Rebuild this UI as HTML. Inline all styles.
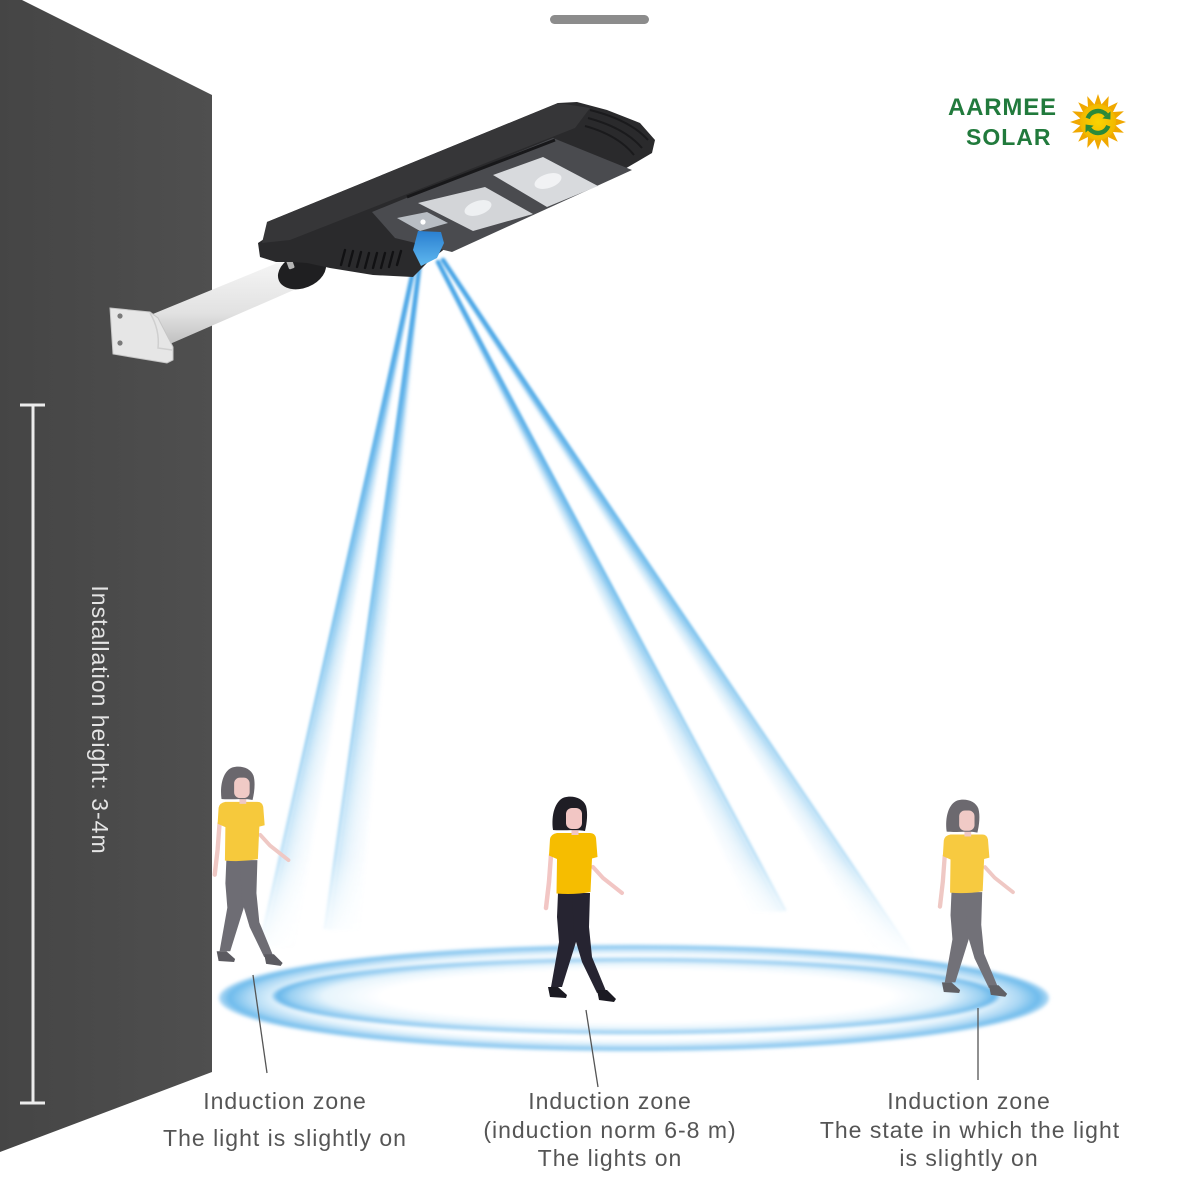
<!DOCTYPE html>
<html>
<head>
<meta charset="utf-8">
<style>
html,body{margin:0;padding:0;background:#ffffff;}
svg{display:block;}
text{font-family:"Liberation Sans",Arial,sans-serif;}
</style>
</head>
<body>
<svg width="1200" height="1200" viewBox="0 0 1200 1200" xmlns="http://www.w3.org/2000/svg">
<defs>
  <linearGradient id="wallg" x1="0" y1="0" x2="1" y2="0">
    <stop offset="0" stop-color="#454545"/>
    <stop offset="1" stop-color="#4f4f4f"/>
  </linearGradient>
  <radialGradient id="ringO" cx="0.5" cy="0.5" r="0.5">
    <stop offset="0" stop-color="#ffffff"/>
    <stop offset="0.78" stop-color="#ffffff"/>
    <stop offset="0.86" stop-color="#e4f3fc"/>
    <stop offset="0.93" stop-color="#aad7f4"/>
    <stop offset="0.975" stop-color="#6dbbec"/>
    <stop offset="1" stop-color="#b0d9f5"/>
  </radialGradient>
  <radialGradient id="ringI" cx="0.5" cy="0.5" r="0.5">
    <stop offset="0" stop-color="#ffffff"/>
    <stop offset="0.7" stop-color="#ffffff"/>
    <stop offset="0.86" stop-color="#e6f4fc"/>
    <stop offset="0.95" stop-color="#9ad0f2"/>
    <stop offset="0.985" stop-color="#66b6ea"/>
    <stop offset="1" stop-color="#b0daf5"/>
  </radialGradient>
  <linearGradient id="beamfade" gradientUnits="userSpaceOnUse" x1="0" y1="250" x2="0" y2="965">
    <stop offset="0" stop-color="#3e9fe4"/>
    <stop offset="0.5" stop-color="#66b8eb"/>
    <stop offset="0.85" stop-color="#92cdf1" stop-opacity="0.7"/>
    <stop offset="1" stop-color="#c8e7f9" stop-opacity="0"/>
  </linearGradient>
  <linearGradient id="tube" x1="0" y1="0" x2="0" y2="1">
    <stop offset="0" stop-color="#f5f5f5"/>
    <stop offset="0.6" stop-color="#e2e2e2"/>
    <stop offset="1" stop-color="#bdbdbd"/>
  </linearGradient>
  <linearGradient id="cone" x1="0" y1="0" x2="0" y2="1">
    <stop offset="0" stop-color="#2a7fd0"/>
    <stop offset="1" stop-color="#5fb8ef"/>
  </linearGradient>
  <radialGradient id="sunc" cx="0.5" cy="0.5" r="0.5">
    <stop offset="0" stop-color="#fbd400"/>
    <stop offset="1" stop-color="#f2b800"/>
  </radialGradient>
  <filter id="blur1" x="-20%" y="-20%" width="140%" height="140%"><feGaussianBlur stdDeviation="1.3"/></filter>
  <filter id="blur2" x="-10%" y="-50%" width="120%" height="200%"><feGaussianBlur stdDeviation="1.8"/></filter>
</defs>

<rect x="0" y="0" width="1200" height="1200" fill="#ffffff"/>

<!-- wall -->
<polygon points="0,0 22,0 212,95 212,1072 0,1152" fill="url(#wallg)"/>

<!-- height bar -->
<g stroke="#ececec" stroke-width="3">
  <line x1="33" y1="404" x2="33" y2="1104"/>
  <line x1="20" y1="405" x2="45" y2="405"/>
  <line x1="20" y1="1103" x2="45" y2="1103"/>
</g>
<text transform="translate(92,720) rotate(90)" text-anchor="middle" font-size="23" letter-spacing="1" fill="#e4e4e4">Installation height: 3-4m</text>

<!-- rings -->
<ellipse cx="634" cy="998" rx="415" ry="53" fill="url(#ringO)" filter="url(#blur2)"/>
<ellipse cx="636" cy="996" rx="364" ry="38" fill="url(#ringI)" filter="url(#blur2)"/>

<!-- beams -->
<g stroke="url(#beamfade)" fill="none" stroke-linecap="round" filter="url(#blur1)">
  <!-- left outer -->
  <line x1="415" y1="262" x2="260" y2="945" stroke-width="2.6" opacity="0.85"/>
  <line x1="415" y1="262" x2="264" y2="945" stroke-width="4.5" opacity="0.5"/>
  <line x1="415" y1="262" x2="268" y2="945" stroke-width="4.5" opacity="0.36"/>
  <line x1="415" y1="262" x2="272" y2="945" stroke-width="4.5" opacity="0.27"/>
  <line x1="415" y1="262" x2="276" y2="945" stroke-width="4.5" opacity="0.2"/>
  <line x1="415" y1="262" x2="280" y2="945" stroke-width="4.5" opacity="0.15"/>
  <line x1="415" y1="262" x2="284" y2="945" stroke-width="4.5" opacity="0.11"/>
  <line x1="415" y1="262" x2="288" y2="945" stroke-width="4.5" opacity="0.08"/>
  <line x1="415" y1="262" x2="292" y2="945" stroke-width="4.5" opacity="0.05"/>
  <!-- left inner -->
  <line x1="420" y1="262" x2="325" y2="928" stroke-width="2.6" opacity="0.85"/>
  <line x1="420" y1="262" x2="329" y2="928" stroke-width="4.5" opacity="0.5"/>
  <line x1="420" y1="262" x2="333" y2="928" stroke-width="4.5" opacity="0.36"/>
  <line x1="420" y1="262" x2="337" y2="928" stroke-width="4.5" opacity="0.27"/>
  <line x1="420" y1="262" x2="341" y2="928" stroke-width="4.5" opacity="0.2"/>
  <line x1="420" y1="262" x2="345" y2="928" stroke-width="4.5" opacity="0.15"/>
  <line x1="420" y1="262" x2="349" y2="928" stroke-width="4.5" opacity="0.11"/>
  <line x1="420" y1="262" x2="353" y2="928" stroke-width="4.5" opacity="0.08"/>
  <line x1="420" y1="262" x2="357" y2="928" stroke-width="4.5" opacity="0.05"/>
  <!-- right inner -->
  <line x1="438" y1="262" x2="785" y2="910" stroke-width="2.6" opacity="0.85"/>
  <line x1="438" y1="262" x2="781" y2="910" stroke-width="4.5" opacity="0.5"/>
  <line x1="438" y1="262" x2="777" y2="910" stroke-width="4.5" opacity="0.36"/>
  <line x1="438" y1="262" x2="773" y2="910" stroke-width="4.5" opacity="0.27"/>
  <line x1="438" y1="262" x2="769" y2="910" stroke-width="4.5" opacity="0.2"/>
  <line x1="438" y1="262" x2="765" y2="910" stroke-width="4.5" opacity="0.15"/>
  <line x1="438" y1="262" x2="761" y2="910" stroke-width="4.5" opacity="0.11"/>
  <line x1="438" y1="262" x2="757" y2="910" stroke-width="4.5" opacity="0.08"/>
  <line x1="438" y1="262" x2="753" y2="910" stroke-width="4.5" opacity="0.05"/>
  <!-- right outer -->
  <line x1="443" y1="260" x2="915" y2="958" stroke-width="2.6" opacity="0.85"/>
  <line x1="443" y1="260" x2="911" y2="958" stroke-width="4.5" opacity="0.5"/>
  <line x1="443" y1="260" x2="907" y2="958" stroke-width="4.5" opacity="0.36"/>
  <line x1="443" y1="260" x2="903" y2="958" stroke-width="4.5" opacity="0.27"/>
  <line x1="443" y1="260" x2="899" y2="958" stroke-width="4.5" opacity="0.2"/>
  <line x1="443" y1="260" x2="895" y2="958" stroke-width="4.5" opacity="0.15"/>
  <line x1="443" y1="260" x2="891" y2="958" stroke-width="4.5" opacity="0.11"/>
  <line x1="443" y1="260" x2="887" y2="958" stroke-width="4.5" opacity="0.08"/>
  <line x1="443" y1="260" x2="883" y2="958" stroke-width="4.5" opacity="0.05"/>
</g>

<!-- lamp arm & bracket -->
<polygon points="148,316 282,261 296,289 163,347" fill="url(#tube)"/>
<polygon points="110,308 150,312 158,318 173,347 173,360 167,363 113,354" fill="#e6e6e6" stroke="#c6c6c6" stroke-width="1"/>
<path d="M150,313 Q160,330 158,348 L172,350" fill="none" stroke="#cfcfcf" stroke-width="1.5"/>
<circle cx="120" cy="316" r="2.6" fill="#7a7a7a"/>
<circle cx="120" cy="343" r="2.6" fill="#7a7a7a"/>

<!-- lamp -->
<ellipse cx="302" cy="271" rx="25" ry="17" transform="rotate(-22 302 271)" fill="#1f1f21"/>
<rect x="287" y="258" width="6" height="11" rx="1.5" fill="#b5b5b5" transform="rotate(-20 290 263)"/>
<polygon points="267,222 558,103 577,102 607,110 640,123 655,140 652,153 623,170 447,247 427,263 413,277 373,275 330,268 307,263 292,262 276,262 260,257 258,243 267,237" fill="#2a2a2c"/>
<polygon points="267,222 558,103 590,108 575,128 290,240 262,243" fill="#363638"/>
<polygon points="372,212 553,138 632,170 452,252 395,238" fill="#4a4b4f"/>
<line x1="407" y1="197" x2="555" y2="140" stroke="#18181a" stroke-width="3"/>
<g stroke="#1a1a1c" stroke-width="2" fill="none">
  <path d="M590,110 Q630,120 648,140"/>
  <path d="M588,118 Q625,128 642,148"/>
  <path d="M585,126 Q618,135 634,155"/>
</g>
<polygon points="418,203 485,187 533,214 473,231" fill="#d3d5d8"/>
<ellipse cx="478" cy="208" rx="14" ry="7" transform="rotate(-18 478 208)" fill="#eef0f2"/>
<polygon points="493,175 543,157 598,186 547,207" fill="#d8dadd"/>
<ellipse cx="548" cy="181" rx="14" ry="7" transform="rotate(-18 548 181)" fill="#f1f2f4"/>
<polygon points="397,218 427,212 448,223 420,231" fill="#b8bdc3"/>
<circle cx="423" cy="222" r="2.6" fill="#ffffff"/>
<g stroke="#111113" stroke-width="2.4" stroke-linecap="round">
  <line x1="345" y1="250" x2="341" y2="265"/>
  <line x1="353" y1="251" x2="349" y2="266"/>
  <line x1="361" y1="252" x2="357" y2="267"/>
  <line x1="369" y1="253" x2="365" y2="268"/>
  <line x1="377" y1="253" x2="373" y2="268"/>
  <line x1="385" y1="253" x2="381" y2="268"/>
  <line x1="393" y1="252" x2="389" y2="267"/>
  <line x1="401" y1="251" x2="397" y2="265"/>
</g>
<polygon points="418,231 441,232 444,243 437,258 421,266 413,250" fill="url(#cone)"/>

<!-- pointer lines -->
<g stroke="#555555" stroke-width="1.3">
  <line x1="253" y1="975" x2="267" y2="1073"/>
  <line x1="586" y1="1010" x2="598" y2="1087"/>
  <line x1="978" y1="1008" x2="978" y2="1080"/>
</g>

<!-- left woman (faded) -->
<g transform="translate(238,767) scale(0.97)">
  <path d="M-19,58 L-21,85 L-24,111" fill="none" stroke="#efc8c4" stroke-width="4.5" stroke-linecap="round"/>
  <path d="M23,70 L33,81 L52,96" fill="none" stroke="#efc8c4" stroke-width="4" stroke-linecap="round"/>
  <path d="M-12,96 L8,96 L12,120 L6,145 L-8,190 L-19,190 L-11,145 L-13,120 Z" fill="#6e6d74"/>
  <path d="M2,96 L20,96 L19,130 L22,160 L36,194 L27,196 L12,165 L4,138 Z" fill="#6e6d74"/>
  <path d="M-22,190 L-12,190 L-3,198 L-4,201 L-20,200 Z" fill="#5c5b61"/>
  <path d="M27,193 L37,193 L46,202 L44,205 L29,203 Z" fill="#5c5b61"/>
  <path d="M-20,42 Q-19,37 -13,36 L20,36 Q25,36 26,41 L27.5,60 L22,61.5 L20.5,95 Q4,98 -13.5,96.5 L-13,62 L-21,58.5 Z" fill="#f6c93c"/>
  <rect x="1.5" y="30" width="7" height="8" fill="#efc8c4"/>
  <path d="M-17,33 C-19,18 -15,4 -6,0.5 C3,-2 13,1 16,9 C18,16 17,26 15,34 C8,32 -8,34 -17,33 Z" fill="#6a676d"/>
  <rect x="-4" y="11" width="16" height="21" rx="6" fill="#f0cac6"/>
</g>

<!-- middle woman -->
<g transform="translate(570,797)">
  <path d="M-19,58 L-21,85 L-24,111" fill="none" stroke="#f2c6c4" stroke-width="4.5" stroke-linecap="round"/>
  <path d="M23,70 L33,81 L52,96" fill="none" stroke="#f2c6c4" stroke-width="4" stroke-linecap="round"/>
  <path d="M-12,96 L8,96 L12,120 L6,145 L-8,190 L-19,190 L-11,145 L-13,120 Z" fill="#262431"/>
  <path d="M2,96 L20,96 L19,130 L22,160 L36,194 L27,196 L12,165 L4,138 Z" fill="#262431"/>
  <path d="M-22,190 L-12,190 L-3,198 L-4,201 L-20,200 Z" fill="#1b1a22"/>
  <path d="M27,193 L37,193 L46,202 L44,205 L29,203 Z" fill="#1b1a22"/>
  <path d="M-20,42 Q-19,37 -13,36 L20,36 Q25,36 26,41 L27.5,60 L22,61.5 L20.5,95 Q4,98 -13.5,96.5 L-13,62 L-21,58.5 Z" fill="#f6bd00"/>
  <rect x="1.5" y="30" width="7" height="8" fill="#f2c6c4"/>
  <path d="M-17,33 C-19,18 -15,4 -6,0.5 C3,-2 13,1 16,9 C18,16 17,26 15,34 C8,32 -8,34 -17,33 Z" fill="#1f1d25"/>
  <rect x="-4" y="11" width="16" height="21" rx="6" fill="#f2c6c4"/>
</g>

<!-- right woman (faded) -->
<g transform="translate(963,800) scale(0.96)">
  <path d="M-19,58 L-21,85 L-24,111" fill="none" stroke="#efc8c4" stroke-width="4.5" stroke-linecap="round"/>
  <path d="M23,70 L33,81 L52,96" fill="none" stroke="#efc8c4" stroke-width="4" stroke-linecap="round"/>
  <path d="M-12,96 L8,96 L12,120 L6,145 L-8,190 L-19,190 L-11,145 L-13,120 Z" fill="#727178"/>
  <path d="M2,96 L20,96 L19,130 L22,160 L36,194 L27,196 L12,165 L4,138 Z" fill="#727178"/>
  <path d="M-22,190 L-12,190 L-3,198 L-4,201 L-20,200 Z" fill="#606065"/>
  <path d="M27,193 L37,193 L46,202 L44,205 L29,203 Z" fill="#606065"/>
  <path d="M-20,42 Q-19,37 -13,36 L20,36 Q25,36 26,41 L27.5,60 L22,61.5 L20.5,95 Q4,98 -13.5,96.5 L-13,62 L-21,58.5 Z" fill="#f7ca40"/>
  <rect x="1.5" y="30" width="7" height="8" fill="#efc8c4"/>
  <path d="M-17,33 C-19,18 -15,4 -6,0.5 C3,-2 13,1 16,9 C18,16 17,26 15,34 C8,32 -8,34 -17,33 Z" fill="#6c696f"/>
  <rect x="-4" y="11" width="16" height="21" rx="6" fill="#f0cac6"/>
</g>

<!-- bottom labels -->
<g font-size="23" letter-spacing="1" fill="#555555" text-anchor="middle">
  <text x="285" y="1109">Induction zone</text>
  <text x="285" y="1146">The light is slightly on</text>
  <text x="610" y="1109">Induction zone</text>
  <text x="610" y="1138">(induction norm 6-8 m)</text>
  <text x="610" y="1166">The lights on</text>
  <text x="969" y="1109">Induction zone</text>
  <text x="970" y="1138">The state in which the light</text>
  <text x="969" y="1166">is slightly on</text>
</g>

<!-- top bar -->
<rect x="550" y="15" width="99" height="9" rx="4.5" fill="#8c8c8c"/>

<!-- logo -->
<g font-weight="bold" fill="#217a3c">
  <text x="948" y="115" font-size="24" letter-spacing="0.8">AARMEE</text>
  <text x="966" y="145" font-size="23" letter-spacing="1">SOLAR</text>
</g>
<polygon fill="#f0a800" points="1126,122 1115.65,125.51 1123.87,132.72 1112.97,132 1117.8,141.8 1108,136.97 1108.72,147.87 1101.51,139.65 1098,150 1094.49,139.65 1087.28,147.87 1088,136.97 1078.2,141.8 1083.03,132 1072.13,132.72 1080.35,125.51 1070,122 1080.35,118.49 1072.13,111.28 1083.03,112 1078.2,102.2 1088,107.03 1087.28,96.13 1094.49,104.35 1098,94 1101.51,104.35 1108.72,96.13 1108,107.03 1117.8,102.2 1112.97,112 1123.87,111.28 1115.65,118.49"/>
<circle cx="1098" cy="122" r="18" fill="url(#sunc)"/>
<g fill="none" stroke="#2a8a3a" stroke-width="4.5">
  <path d="M1087.7,118.3 A11,11 0 0 1 1106.4,114.9"/>
  <path d="M1108.3,125.8 A11,11 0 0 1 1089.6,129.1"/>
</g>
<polygon points="1110.4,119.5 1110.5,111.4 1102.4,118.4" fill="#2a8a3a"/>
<polygon points="1085.6,124.5 1085.5,132.6 1093.6,125.6" fill="#2a8a3a"/>
</svg>
</body>
</html>
